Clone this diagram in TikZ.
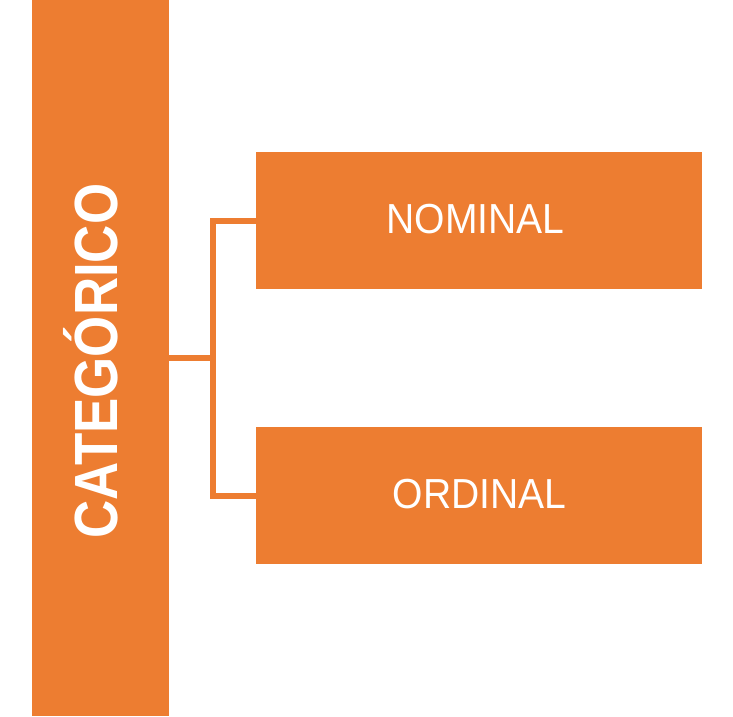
\documentclass[tikz,border=0pt]{standalone}
\usepackage{fontspec}
\setmainfont{Liberation Sans}
\definecolor{orng}{HTML}{ED7D31}
\begin{document}
\begin{tikzpicture}[x=1pt,y=-1pt,
  box/.style={fill=orng,draw=none,inner sep=0pt,minimum width=446pt,minimum height=137pt,text=white},
  conn/.style={draw=orng,line width=6pt,line join=miter}]
\useasboundingbox (0,0) rectangle (733,716);
\node[fill=orng,inner sep=0pt,minimum width=137pt,minimum height=716pt] (bar) at (100.5,358) {};
\node[rotate=90,anchor=base,text=white,inner sep=0pt] (cat) at (117,361)
  {\scalebox{0.867}[1]{\fontsize{61pt}{61pt}\selectfont\bfseries CATEGÓRICO}};
\node[box] (nom) at (479,220.5) {};
\node[text=white,anchor=base,inner sep=0pt] (nomt) at (475.5,233)
  {\scalebox{0.93}[1]{\fontsize{42pt}{42pt}\selectfont NOMINAL}};
\node[box] (ord) at (479,495.5) {};
\node[text=white,anchor=base,inner sep=0pt] (ordt) at (479.5,508)
  {\scalebox{0.93}[1]{\fontsize{42pt}{42pt}\selectfont ORDINAL}};
\coordinate (j) at (212.5,358);
\draw[conn] (bar.east) -- (j);
\draw[conn] (nom.west) -| (j) |- (ord.west);
\end{tikzpicture}
\end{document}
